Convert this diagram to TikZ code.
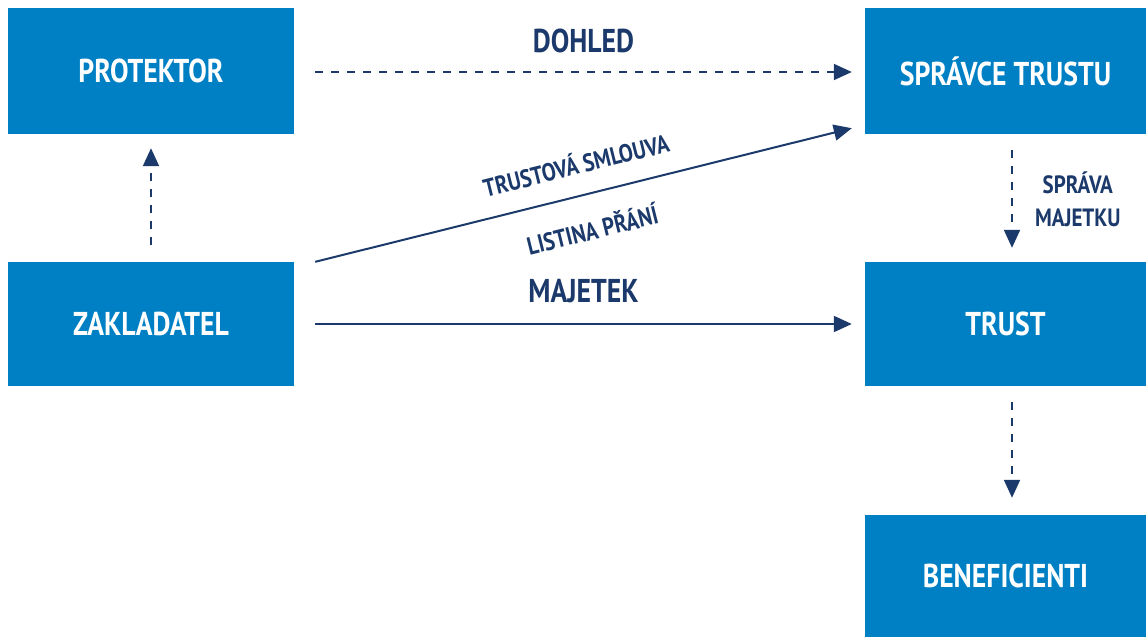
\documentclass[tikz,border=0pt]{standalone}
\usepackage{fontspec}
\setmainfont{PT Sans}[FakeStretch=0.84]
\usetikzlibrary{arrows.meta,calc}
\definecolor{boxblue}{HTML}{0080C4}
\definecolor{navy}{HTML}{1B3A6B}
\tikzset{
  box/.style={fill=boxblue, minimum width=286pt, minimum height=126pt, inner sep=0pt,
    text=white, font=\fontsize{33}{34}\selectfont\bfseries},
  conn/.style={draw=navy, line width=2pt, -{Triangle[length=18pt,width=16pt]}},
  dashconn/.style={conn, dash pattern=on 8pt off 8pt},
  lbl/.style={text=navy, font=\fontsize{33}{34}\selectfont\bfseries, inner sep=0pt},
  slbl/.style={text=navy, font=\fontsize{25}{33}\selectfont\bfseries, inner sep=0pt, align=center}
}
\begin{document}
\begin{tikzpicture}[x=1pt,y=-1pt]
\useasboundingbox (0,0) rectangle (1146,637);
\node[box] (prot) at (151,71) {PROTEKTOR};
\node[box, minimum width=281pt] (spr) at (1005.5,71) {SPRÁVCE TRUSTU};
\node[box, minimum height=124pt] (zak) at (151,324) {ZAKLADATEL};
\node[box, minimum width=281pt, minimum height=124pt] (trust) at (1005.5,324) {TRUST};
\node[box, minimum width=281pt, minimum height=122pt] (ben) at (1005.5,576) {BENEFICIENTI};

\coordinate (d1) at ($(prot.east)+(21,1)$);
\coordinate (d2) at ($(spr.west)+(-13,1)$);
\draw[dashconn] (d1) -- (d2) node[lbl, midway, above=18pt] (dohled) {DOHLED};

\coordinate (m1) at ($(zak.east)+(21,0)$);
\coordinate (m2) at ($(trust.west)+(-13,0)$);
\draw[conn] (m1) -- (m2) node[lbl, midway, above=20pt] (majetek) {MAJETEK};

\coordinate (t1) at ($(zak.north east)+(21,0)$);
\coordinate (t2) at ($(spr.south west)+(-13,-6)$);
\draw[conn] (t1) -- (t2)
  node[slbl, pos=0.5, sloped, above=20pt] (smlouva) {TRUSTOVÁ SMLOUVA}
  node[slbl, pos=0.5, sloped, below=23pt] (listina) {LISTINA PŘÁNÍ};

\draw[dashconn] ($(zak.north)+(0,-17)$) -- ($(prot.south)+(0,14)$);
\draw[dashconn] ($(spr.south)+(6.5,16)$) -- ($(trust.north)+(6.5,-14)$)
  node[slbl, midway, right=22pt] (sprava) {SPRÁVA\\MAJETKU};
\draw[dashconn] ($(trust.south)+(6.5,16)$) -- ($(ben.north)+(6.5,-17)$);
\end{tikzpicture}
\end{document}
